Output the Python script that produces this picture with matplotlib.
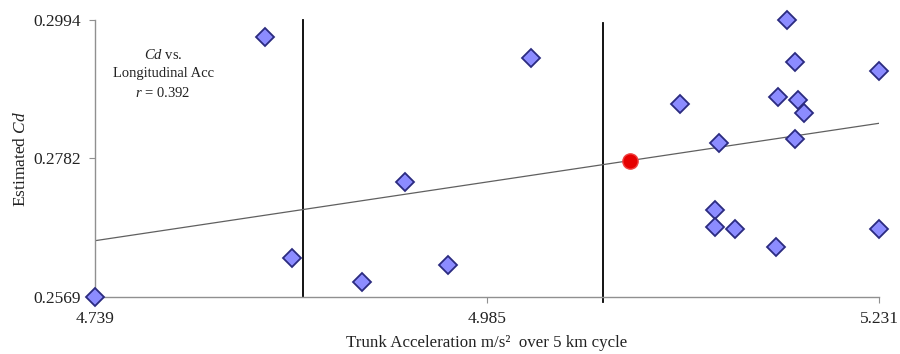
import matplotlib.pyplot as plt
import numpy as np

plt.rcParams['font.family'] = ['Liberation Serif', 'DejaVu Serif']
plt.rcParams['mathtext.fontset'] = 'custom'
plt.rcParams['mathtext.rm'] = 'Liberation Serif'
plt.rcParams['mathtext.it'] = 'Liberation Serif:italic'

#   data
acc = [4.739, 4.8457, 4.8626, 4.9066, 4.9335, 4.9605, 5.0126, 5.1061,
       5.1306, 5.1279, 5.1279, 5.1406, 5.1664, 5.1678, 5.1731, 5.1783,
       5.1804, 5.1839, 5.1783, 5.231, 5.231]
cd = [0.2569, 0.29679, 0.26288, 0.2592, 0.27454, 0.26181, 0.29357, 0.28651,
      0.28053, 0.27025, 0.26769, 0.26738, 0.26462, 0.28763, 0.2994, 0.29291,
      0.28713, 0.28508, 0.2811, 0.29162, 0.26738]
mean_acc = 5.0747
mean_cd = 0.27781
trend_x = [4.739, 5.231]
trend_y = [0.26554, 0.28355]
band_x = [4.8695, 5.0578]

x_ticks = [4.739, 4.985, 5.231]
y_ticks = [0.2569, 0.2782, 0.2994]

fig = plt.figure(figsize=(9, 3.54), dpi=100)
ax = fig.add_axes([0.1056, 0.161, 0.871, 0.7825])

ax.plot(trend_x, trend_y, color='#606060', lw=0.9, zorder=2)

ax.axvline(band_x[0], ymin=0, ymax=1.0, color='black', lw=1.3, clip_on=False, zorder=1)
ax.axvline(band_x[1], ymin=-0.018, ymax=0.989, color='black', lw=1.3, clip_on=False, zorder=1)

ax.plot(acc, cd, 'D', ms=9.4, mfc='#8c8cff', mec='#2b2b80', mew=1.3,
        clip_on=False, zorder=4)
ax.plot([mean_acc], [mean_cd], 'o', ms=11, mfc='#e60000', mec='#f04040', mew=1,
        clip_on=False, zorder=5)

ax.set_xlim(x_ticks[0], x_ticks[-1])
ax.set_ylim(y_ticks[0], y_ticks[-1])
ax.set_xticks(x_ticks)
ax.set_xticklabels(['%.3f' % v for v in x_ticks])
ax.set_yticks(y_ticks)
ax.set_yticklabels(['%.4f' % v for v in y_ticks])

for s in ['top', 'right']:
    ax.spines[s].set_visible(False)
for s in ['left', 'bottom']:
    ax.spines[s].set_color('#909090')
    ax.spines[s].set_linewidth(1.0)
ax.tick_params(colors='#909090', labelcolor='#222222', length=4, labelsize=12.5, pad=6)

ax.set_xlabel('Trunk Acceleration m/s\u00b2  over 5 km cycle', fontsize=12.2,
              color='#222222', labelpad=6)
ax.set_ylabel('Estimated $\\mathit{Cd}$', fontsize=12.5, color='#222222', labelpad=3)

ax.text(0.0867, 0.805, '$\\mathit{Cd}$ vs.\nLongitudinal Acc\n$\\mathit{r}$ = 0.392',
        transform=ax.transAxes, ha='center', va='center', fontsize=10.5,
        color='#222222', linespacing=1.55)

fig.savefig('out.png', dpi=100)
